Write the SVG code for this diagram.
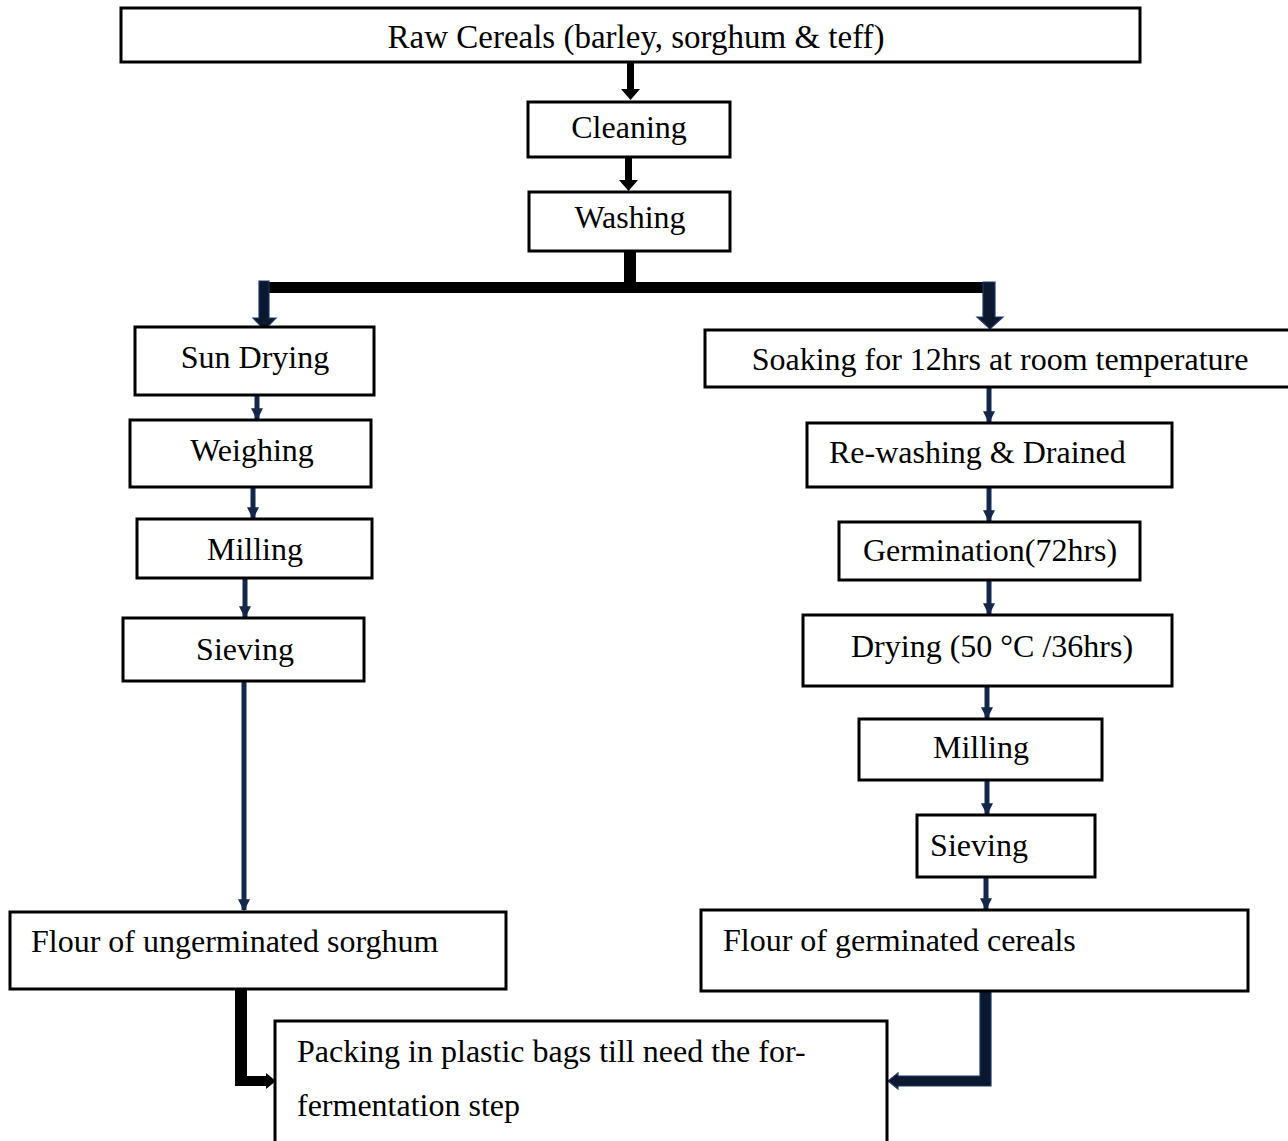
<svg xmlns="http://www.w3.org/2000/svg" width="1288" height="1141" viewBox="0 0 1288 1141">
<style>
.box{fill:#fff;stroke:#000;stroke-width:3}
.t{font-family:"Liberation Serif","Times New Roman",serif;font-size:32px;fill:#000}
.c{text-anchor:middle}
.blk{fill:#000;stroke:none}
.nv{fill:#0b1830;stroke:#1F3864;stroke-width:1.2}
.thin{stroke:#14284b;stroke-width:5;fill:none}
</style>
<defs>
<marker id="ah" viewBox="0 0 10 10" refX="9" refY="5" markerWidth="3" markerHeight="2.4" orient="auto" markerUnits="strokeWidth">
<path d="M0,0 L10,5 L0,10 Z" fill="#14284b"/>
</marker>
</defs>
<g id="connectors">
<rect class="blk" x="627" y="62" width="7" height="28"/>
<path class="blk" d="M621,89 L640,89 L630.5,100 Z"/>
<rect class="blk" x="625" y="157" width="7" height="24"/>
<path class="blk" d="M619,180 L638,180 L628.5,191 Z"/>
<rect class="blk" x="624" y="251" width="12" height="33"/>
<rect class="blk" x="262" y="282" width="728" height="11"/>
<path class="nv" d="M259,281 L269,281 L269,318 L276,318 L264.5,330 L253,318 L259,318 Z"/>
<path class="nv" d="M983,282 L995,282 L995,317 L1003,317 L990,329 L977,317 L983,317 Z"/>
<line class="thin" x1="257" y1="395" x2="257" y2="419" marker-end="url(#ah)"/>
<line class="thin" x1="253" y1="487" x2="253" y2="518" marker-end="url(#ah)"/>
<line class="thin" x1="245" y1="578" x2="245" y2="617" marker-end="url(#ah)"/>
<line class="thin" x1="244" y1="682" x2="244" y2="910" marker-end="url(#ah)"/>
<line class="thin" x1="989" y1="388" x2="989" y2="422" marker-end="url(#ah)"/>
<line class="thin" x1="989" y1="487" x2="989" y2="521" marker-end="url(#ah)"/>
<line class="thin" x1="989" y1="580" x2="989" y2="614" marker-end="url(#ah)"/>
<line class="thin" x1="987" y1="686" x2="987" y2="718" marker-end="url(#ah)"/>
<line class="thin" x1="987" y1="780" x2="987" y2="814" marker-end="url(#ah)"/>
<line class="thin" x1="986" y1="877" x2="986" y2="909" marker-end="url(#ah)"/>
<path class="blk" d="M235,990 L247,990 L247,1076 L266,1076 L266,1073 L276,1081 L266,1089 L266,1086 L235,1086 Z"/>
<path class="nv" d="M980,990 L991,990 L991,1086 L898,1086 L898,1089 L888,1081 L898,1073 L898,1076 L980,1076 Z"/>
</g>
<g id="raw"><rect class="box" x="121" y="8" width="1019" height="54"/><text class="t c" x="636" y="48" style="font-size:33px">Raw Cereals (barley, sorghum &amp; teff)</text></g>
<g id="cleaning"><rect class="box" x="528" y="102" width="202" height="55"/><text class="t c" x="629" y="138">Cleaning</text></g>
<g id="washing"><rect class="box" x="529" y="192" width="201" height="59"/><text class="t c" x="630" y="228">Washing</text></g>
<g id="sundrying"><rect class="box" x="135" y="327" width="239" height="68"/><text class="t c" x="255" y="368">Sun Drying</text></g>
<g id="weighing"><rect class="box" x="130" y="420" width="241" height="67"/><text class="t c" x="252" y="461">Weighing</text></g>
<g id="milling1"><rect class="box" x="137" y="519" width="235" height="59"/><text class="t c" x="255" y="560">Milling</text></g>
<g id="sieving1"><rect class="box" x="123" y="618" width="241" height="63"/><text class="t c" x="245" y="660">Sieving</text></g>
<g id="flour1"><rect class="box" x="10" y="912" width="496" height="77"/><text class="t" x="31" y="952">Flour of ungerminated sorghum</text></g>
<g id="soaking"><rect class="box" x="705" y="330" width="590" height="57"/><text class="t c" x="1000" y="370">Soaking for 12hrs at room temperature</text></g>
<g id="rewashing"><rect class="box" x="807" y="423" width="365" height="64"/><text class="t" x="829" y="463">Re-washing &amp; Drained</text></g>
<g id="germination"><rect class="box" x="839" y="522" width="301" height="58"/><text class="t" x="863" y="561">Germination(72hrs)</text></g>
<g id="drying"><rect class="box" x="803" y="615" width="369" height="71"/><text class="t" x="851" y="657">Drying (50 °C /36hrs)</text></g>
<g id="milling2"><rect class="box" x="859" y="719" width="243" height="61"/><text class="t c" x="981" y="758">Milling</text></g>
<g id="sieving2"><rect class="box" x="917" y="815" width="178" height="62"/><text class="t c" x="979" y="856">Sieving</text></g>
<g id="flour2"><rect class="box" x="701" y="910" width="547" height="81"/><text class="t" x="723" y="951">Flour of germinated cereals</text></g>
<g id="packing"><rect class="box" x="275" y="1021" width="612" height="135"/><text class="t" x="297" y="1062">Packing in plastic bags till need the for-</text><text class="t" x="297" y="1116">fermentation step</text></g>
</svg>
